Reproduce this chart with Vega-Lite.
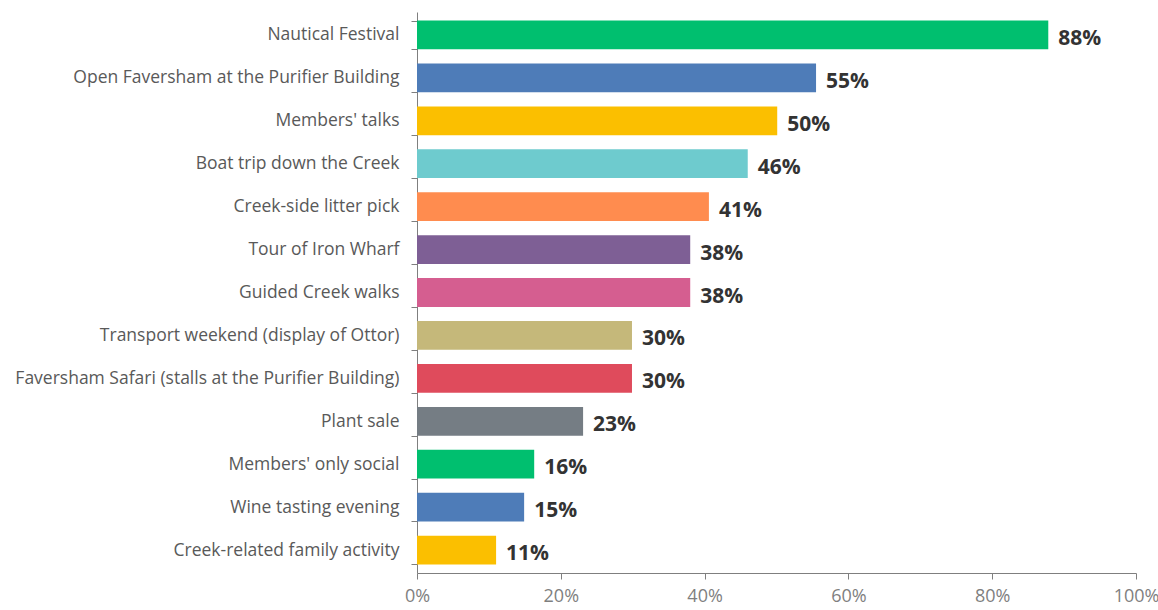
{
  "$schema": "https://vega.github.io/schema/vega-lite/v6.json",
  "autosize": "none",
  "width": 719,
  "height": 561,
  "padding": {"left": 417, "top": 12, "right": 22, "bottom": 37},
  "background": "white",
  "config": {"view": {"stroke": null}, "font": "Open Sans"},
  "data": {"values": [
    {"event": "Nautical Festival", "pct": 0.878, "label": "88%", "color": "#00BF6F"},
    {"event": "Open Faversham at the Purifier Building", "pct": 0.555, "label": "55%", "color": "#4E7CB8"},
    {"event": "Members' talks", "pct": 0.501, "label": "50%", "color": "#FBBF00"},
    {"event": "Boat trip down the Creek", "pct": 0.46, "label": "46%", "color": "#6ECBCE"},
    {"event": "Creek-side litter pick", "pct": 0.406, "label": "41%", "color": "#FF8C4F"},
    {"event": "Tour of Iron Wharf", "pct": 0.38, "label": "38%", "color": "#7E5F95"},
    {"event": "Guided Creek walks", "pct": 0.38, "label": "38%", "color": "#D55E90"},
    {"event": "Transport weekend (display of Ottor)", "pct": 0.299, "label": "30%", "color": "#C5B87A"},
    {"event": "Faversham Safari (stalls at the Purifier Building)", "pct": 0.299, "label": "30%", "color": "#DF4B5C"},
    {"event": "Plant sale", "pct": 0.231, "label": "23%", "color": "#757D84"},
    {"event": "Members' only social", "pct": 0.163, "label": "16%", "color": "#00BF6F"},
    {"event": "Wine tasting evening", "pct": 0.149, "label": "15%", "color": "#4E7CB8"},
    {"event": "Creek-related family activity", "pct": 0.11, "label": "11%", "color": "#FBBF00"}
  ]},
  "encoding": {
    "y": {"field": "event", "type": "nominal", "sort": null, "title": null,
      "scale": {"paddingInner": 0.33, "paddingOuter": 0.2},
      "axis": {"labelFontSize": 17.5, "labelColor": "#595959", "labelPadding": 12, "tickBand": "extent",
        "tickSize": 6, "tickColor": "#7f7f7f", "domainColor": "#7f7f7f", "labelLimit": 420}},
    "x": {"field": "pct", "type": "quantitative", "title": null,
      "scale": {"domain": [0, 1]},
      "axis": {"values": [0, 0.2, 0.4, 0.6, 0.8, 1], "format": ".0%", "labelFontSize": 18, "labelColor": "#7f7f7f",
        "grid": false, "tickSize": 6, "tickColor": "#7f7f7f", "domainColor": "#7f7f7f", "labelPadding": 8, "labelFlush": false}}
  },
  "layer": [
    {"mark": {"type": "bar"}, "encoding": {"color": {"field": "color", "type": "nominal", "scale": null}}},
    {"mark": {"type": "text", "align": "left", "dx": 10, "dy": 4, "fontSize": 21, "fontWeight": "bold", "color": "#333333"},
      "encoding": {"text": {"field": "label"}}}
  ]
}
